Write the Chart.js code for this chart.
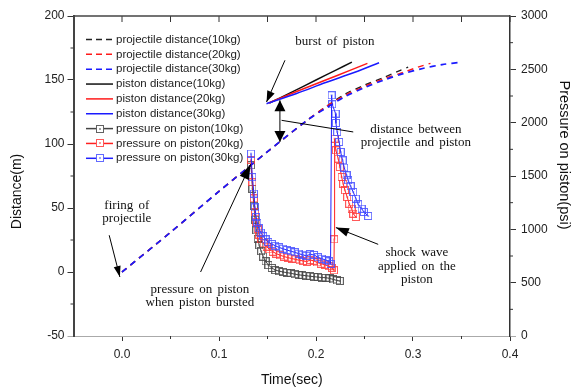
<!DOCTYPE html>
<html>
<head>
<meta charset="utf-8">
<title>Projectile and piston distance, pressure on piston</title>
<script src="https://cdn.jsdelivr.net/npm/chart.js@4.4.1/dist/chart.umd.min.js"></script>
<style>
  html, body { margin: 0; padding: 0; background: #fff; }
</style>
</head>
<body>
<canvas id="burstChart" width="585" height="387"></canvas>
<script>
// axis ticks: time (sec), distance (m), pressure (psi)
const timeTicks = [0, 0.1, 0.2, 0.3, 0.4];
const timeMinorTicks = [0.05, 0.15, 0.25, 0.35];
const distTicks = [-50, 0, 50, 100, 150, 200];
const distMinorTicks = [-25, 25, 75, 125, 175];
const pressTicks = [0, 500, 1000, 1500, 2000, 2500, 3000];
const pressMinorTicks = [250, 750, 1250, 1750, 2250, 2750];

// projectile distance (m)
const projTime10 = [0, 0.05, 0.10, 0.15, 0.19, 0.21, 0.23, 0.25, 0.27, 0.285, 0.295];
const projDist10 = [0, 31, 63, 94, 118, 129, 139, 146, 152, 157, 160];
const projTime20 = [0, 0.05, 0.10, 0.15, 0.19, 0.21, 0.23, 0.25, 0.27, 0.29, 0.305, 0.318];
const projDist20 = [0, 31, 63, 94, 118, 129, 138, 145, 151, 156, 160, 163];
const projTime30 = [0, 0.05, 0.10, 0.15, 0.19, 0.21, 0.23, 0.25, 0.27, 0.29, 0.31, 0.33, 0.35];
const projDist30 = [0, 31, 63, 94, 118, 128, 137, 144, 150, 155, 159, 162, 164];

// piston distance (m), after burst
const pistTime10 = [0.152, 0.175, 0.200, 0.220, 0.237];
const pistDist10 = [132, 140.5, 150, 157.5, 164];
const pistTime20 = [0.151, 0.180, 0.210, 0.235, 0.253];
const pistDist20 = [132, 141, 150, 157.5, 163];
const pistTime30 = [0.149, 0.180, 0.210, 0.240, 0.265];
const pistDist30 = [131.5, 139.5, 148, 156, 163.5];

// pressure on piston (psi)
const pressTime10 = [0.1330, 0.1345, 0.1360, 0.1372, 0.1385, 0.1400, 0.1415, 0.1435, 0.1455, 0.1480,
  0.1510, 0.1545, 0.1580, 0.1620, 0.1660, 0.1700, 0.1740, 0.1780, 0.1820, 0.1860,
  0.1900, 0.1940, 0.1980, 0.2020, 0.2060, 0.2100, 0.2140, 0.2180, 0.2215, 0.2245];
const pressVal10 = [1600, 1380, 1220, 1090, 990, 910, 850, 795, 745, 700,
  665, 638, 618, 608, 600, 594, 588, 580, 574, 569,
  565, 560, 556, 552, 548, 547, 540, 530, 521, 516];

const pressTime20 = [0.1330, 0.1345, 0.1360, 0.1372, 0.1385, 0.1400, 0.1415, 0.1435, 0.1460, 0.1490,
  0.1520, 0.1555, 0.1590, 0.1630, 0.1670, 0.1710, 0.1750, 0.1790, 0.1830, 0.1870,
  0.1905, 0.1940, 0.1975, 0.2010, 0.2050, 0.2090, 0.2130, 0.2165, 0.2185,
  0.2188, 0.2192, 0.2205, 0.2229, 0.2246, 0.2264, 0.2280, 0.2298, 0.2322, 0.2342,
  0.2367, 0.2384, 0.2411];
const pressVal20 = [1650, 1440, 1290, 1160, 1070, 1000, 950, 905, 868, 838,
  812, 790, 772, 757, 745, 735, 726, 718, 710, 703,
  698, 712, 705, 690, 678, 668, 655, 640, 616,
  906, 1850, 1741, 1663, 1584, 1491, 1429, 1366, 1303, 1241,
  1194, 1147, 1116];

const pressTime30 = [0.1330, 0.1343, 0.1360, 0.1370, 0.1382, 0.1395, 0.1410, 0.1430, 0.1455, 0.1480,
  0.1510, 0.1545, 0.1580, 0.1620, 0.1660, 0.1700, 0.1740, 0.1780, 0.1820, 0.1860,
  0.1900, 0.1940, 0.1980, 0.2020, 0.2060, 0.2100, 0.2135, 0.2150,
  0.2161, 0.2167, 0.2202, 0.2205, 0.2219, 0.2239, 0.2254, 0.2274, 0.2291, 0.2315,
  0.2332, 0.2357, 0.2384, 0.2411, 0.2435, 0.2470, 0.2494, 0.2538];
const pressVal30 = [1710, 1490, 1335, 1205, 1115, 1060, 1010, 970, 935, 905,
  880, 862, 846, 830, 818, 806, 795, 785, 772, 762,
  752, 765, 760, 738, 725, 712, 700, 675,
  2257, 2172, 2085, 1997, 1912, 1819, 1725, 1647, 1579, 1507,
  1460, 1403, 1350, 1288, 1235, 1194, 1163, 1125];

// callouts, placed in time / distance units
const arrows = [
  { from: [0.168, 165.4], to: [0.149, 132.8], head: [11, 8] },
  { from: [0.1628, 118], to: [0.1628, 134.1], head: [11, 11] },
  { from: [0.1628, 118], to: [0.1628, 101.6], head: [11, 11] },
  { from: [0.1645, 118.5], to: [0.2384, 109.4], head: null },
  { from: [-0.0132, 28.7], to: [-0.0022, -3.9], head: [11, 7] },
  { from: [0.081, 0], to: [0.1326, 84.1], head: [15, 10] },
  { from: [0.2641, 21.6], to: [0.2205, 34.7], head: [13, 9] }
];
const notes = [
  { at: [0.2195, 180.2], lines: ['burst of piston'] },
  { at: [0.303, 111.5], lines: ['distance between', 'projectile and piston'] },
  { at: [0.005, 52.1], lines: ['firing of', 'projectile'] },
  { at: [0.0803, -13.5], lines: ['pressure on piston', 'when piston bursted'] },
  { at: [0.304, 15], lines: ['shock wave', 'applied on the', 'piston'] }
];

const sans = '"Liberation Sans", Arial, sans-serif';
const serif = '"Liberation Serif", "Times New Roman", serif';

function pts(xs, ys) {
  return xs.map((x, i) => ({ x: x, y: ys[i] }));
}

// hollow square with a dot, used for pressure points
function squareMarker(color) {
  const c = document.createElement('canvas');
  c.width = 8;
  c.height = 8;
  const g = c.getContext('2d');
  g.strokeStyle = color;
  g.lineWidth = 1;
  g.strokeRect(0.5, 0.5, 7, 7);
  g.fillStyle = color;
  g.globalAlpha = 0.6;
  g.fillRect(3, 3, 2, 2);
  return c;
}

function distLine(label, xs, ys, color, width, dash, order) {
  return {
    label: label, data: pts(xs, ys), yAxisID: 'y',
    borderColor: color, borderWidth: width, borderDash: dash,
    pointRadius: 0, tension: 0.3, order: order
  };
}

function pressLine(label, xs, ys, color, markColor, order) {
  return {
    label: label, data: pts(xs, ys), yAxisID: 'y1',
    borderColor: color, borderWidth: 1, borderDash: [],
    pointStyle: squareMarker(markColor), pointRadius: 4,
    tension: 0, order: order
  };
}

const datasets = [
  distLine('projectile distance(10kg)', projTime10, projDist10, '#222', 1.4, [6, 5], 6),
  distLine('projectile distance(20kg)', projTime20, projDist20, '#ff1a1a', 1.4, [6, 5], 5),
  distLine('projectile distance(30kg)', projTime30, projDist30, '#1a1aff', 1.7, [6, 5], 4),
  distLine('piston distance(10kg)', pistTime10, pistDist10, '#111', 1.5, [], 3),
  distLine('piston distance(20kg)', pistTime20, pistDist20, '#ff1a1a', 1.5, [], 2),
  distLine('piston distance(30kg)', pistTime30, pistDist30, '#1a1aff', 1.5, [], 1),
  pressLine('pressure on piston(10kg)', pressTime10, pressVal10, '#444', 'rgba(70,70,70,0.85)', 9),
  pressLine('pressure on piston(20kg)', pressTime20, pressVal20, '#ff2020', 'rgba(255,60,60,0.85)', 8),
  pressLine('pressure on piston(30kg)', pressTime30, pressVal30, '#2020ff', 'rgba(70,80,255,0.85)', 7)
];

// legend drawn inside the plot, top left
const insideLegend = {
  id: 'insideLegend',
  afterDraw(chart) {
    const { ctx, chartArea } = chart;
    const x0 = chartArea.left + 12.5;
    const y0 = chartArea.top + 23.5;
    const rowH = 14.85;
    const w = 27;
    ctx.save();
    ctx.font = '11.5px ' + sans;
    ctx.textBaseline = 'middle';
    chart.data.datasets.forEach((ds, i) => {
      const y = y0 + i * rowH;
      const dashed = ds.borderDash && ds.borderDash.length > 0;
      ctx.beginPath();
      ctx.setLineDash(dashed ? [6, 4] : []);
      ctx.strokeStyle = ds.borderColor;
      ctx.lineWidth = 1.5;
      ctx.moveTo(x0, y);
      ctx.lineTo(x0 + w, y);
      ctx.stroke();
      ctx.setLineDash([]);
      if (ds.pointStyle instanceof HTMLCanvasElement) {
        const mx = Math.round(x0 + w / 2 - 4);
        const my = Math.round(y - 4);
        ctx.fillStyle = '#fff';
        ctx.fillRect(mx, my, 8, 8);
        ctx.drawImage(ds.pointStyle, mx, my);
      }
      ctx.fillStyle = '#222';
      ctx.fillText(ds.label, x0 + w + 3, y);
    });
    ctx.restore();
  }
};

// top frame line, minor ticks and the two vertical axis titles
const frame = {
  id: 'frame',
  afterDraw(chart) {
    const { ctx, chartArea: a, scales } = chart;
    ctx.save();
    ctx.strokeStyle = '#333';
    ctx.lineWidth = 1;
    ctx.beginPath();
    timeMinorTicks.forEach(v => {
      const x = scales.x.getPixelForValue(v);
      ctx.moveTo(x, a.bottom);
      ctx.lineTo(x, a.bottom + 3);
    });
    distMinorTicks.forEach(v => {
      const y = scales.y.getPixelForValue(v);
      ctx.moveTo(a.left, y);
      ctx.lineTo(a.left - 3, y);
    });
    pressMinorTicks.forEach(v => {
      const y = scales.y1.getPixelForValue(v);
      ctx.moveTo(a.right, y);
      ctx.lineTo(a.right + 3, y);
    });
    timeTicks.concat(timeMinorTicks).forEach(v => {
      const x = scales.x.getPixelForValue(v);
      ctx.moveTo(x, a.top);
      ctx.lineTo(x, a.top + 6);
    });
    ctx.stroke();

    ctx.strokeStyle = '#444';
    ctx.lineWidth = 1.5;
    ctx.beginPath();
    ctx.moveTo(a.left, a.top);
    ctx.lineTo(a.right, a.top);
    ctx.stroke();

    ctx.fillStyle = '#111';
    ctx.textAlign = 'center';
    ctx.textBaseline = 'middle';
    ctx.font = '14px ' + sans;
    ctx.translate(a.left - 56, a.top + 175.5);
    ctx.rotate(-Math.PI / 2);
    ctx.fillText('Distance(m)', 0, 0);
    ctx.restore();

    ctx.save();
    ctx.fillStyle = '#111';
    ctx.textAlign = 'center';
    ctx.textBaseline = 'middle';
    ctx.font = '14.5px ' + sans;
    ctx.translate(a.right + 54, a.top + 139);
    ctx.rotate(Math.PI / 2);
    ctx.fillText('Pressure on piston(psi)', 0, 0);
    ctx.restore();
  }
};

// arrows and serif callout text
const callouts = {
  id: 'callouts',
  afterDatasetsDraw(chart) {
    const { ctx } = chart;
    const px = v => chart.scales.x.getPixelForValue(v);
    const py = v => chart.scales.y.getPixelForValue(v);
    ctx.save();
    ctx.strokeStyle = '#000';
    ctx.fillStyle = '#000';
    ctx.lineWidth = 1;
    arrows.forEach(a => {
      const x1 = px(a.from[0]), y1 = py(a.from[1]);
      const x2 = px(a.to[0]), y2 = py(a.to[1]);
      ctx.beginPath();
      ctx.moveTo(x1, y1);
      ctx.lineTo(x2, y2);
      ctx.stroke();
      if (a.head) {
        const ang = Math.atan2(y2 - y1, x2 - x1);
        const len = a.head[0], hw = a.head[1] / 2;
        const bx = x2 - len * Math.cos(ang), by = y2 - len * Math.sin(ang);
        ctx.beginPath();
        ctx.moveTo(x2, y2);
        ctx.lineTo(bx + hw * Math.sin(ang), by - hw * Math.cos(ang));
        ctx.lineTo(bx - hw * Math.sin(ang), by + hw * Math.cos(ang));
        ctx.closePath();
        ctx.fill();
      }
    });
    ctx.font = '13px ' + serif;
    ctx.textAlign = 'center';
    ctx.textBaseline = 'middle';
    if ('wordSpacing' in ctx) ctx.wordSpacing = '2px';
    ctx.fillStyle = '#111';
    notes.forEach(n => {
      n.lines.forEach((s, i) => {
        ctx.fillText(s, px(n.at[0]), py(n.at[1]) + i * 13.5);
      });
    });
    ctx.restore();
  }
};

const tickFont = { family: sans, size: 12 };

new Chart(document.getElementById('burstChart'), {
  type: 'line',
  data: { datasets: datasets },
  plugins: [callouts, frame, insideLegend],
  options: {
    responsive: false,
    animation: false,
    layout: { padding: { top: 16, left: 0, right: 0, bottom: 0 } },
    plugins: {
      legend: { display: false },
      tooltip: { enabled: false }
    },
    scales: {
      x: {
        type: 'linear', min: -0.05, max: 0.4,
        afterBuildTicks: s => { s.ticks = timeTicks.map(v => ({ value: v })); },
        afterFit: s => { s.height = 51; },
        ticks: { font: tickFont, color: '#222', padding: 6, maxRotation: 0, callback: v => v.toFixed(1) },
        grid: { drawOnChartArea: false, tickLength: 5, tickColor: '#333' },
        border: { color: '#aaa', width: 1 },
        title: { display: true, text: 'Time(sec)', color: '#111', font: { family: sans, size: 14, lineHeight: 1 }, padding: 0 }
      },
      y: {
        position: 'left', min: -50, max: 200,
        afterBuildTicks: s => { s.ticks = distTicks.map(v => ({ value: v })); },
        afterFit: s => { s.width = 73.5; },
        ticks: { font: tickFont, color: '#222', padding: 3, callback: v => String(v) },
        grid: { drawOnChartArea: false, tickLength: 6, tickColor: c => (c.tick && c.tick.value === -50 ? '#aaa' : '#333') },
        border: { color: '#444', width: 2 }
      },
      y1: {
        position: 'right', min: 0, max: 3000,
        afterBuildTicks: s => { s.ticks = pressTicks.map(v => ({ value: v })); },
        afterFit: s => { s.width = 75; },
        ticks: { font: tickFont, color: '#222', padding: 5, callback: v => String(v) },
        grid: { drawOnChartArea: false, tickLength: 6, tickColor: c => (c.tick && c.tick.value === 0 ? '#aaa' : '#333') },
        border: { color: '#333', width: 1.5 }
      }
    }
  }
});
</script>
</body>
</html>
